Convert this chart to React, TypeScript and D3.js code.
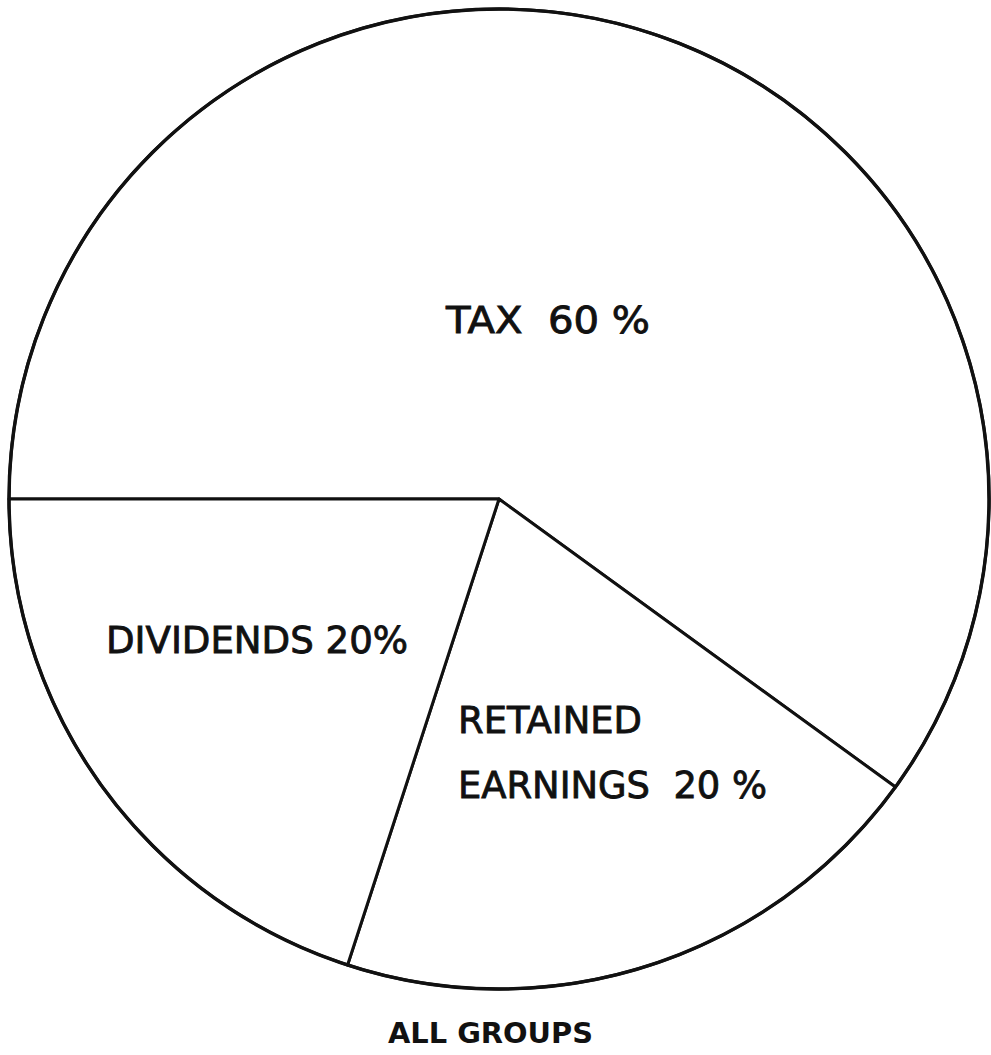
import React from 'react';
import * as d3 from 'd3';

// shares of income
const categories = ['TAX', 'RETAINED EARNINGS', 'DIVIDENDS'];
const shares = [60, 20, 20];
const labelLines = [['TAX  60 %'], ['RETAINED', 'EARNINGS  20 %'], ['DIVIDENDS 20%']];
const caption = 'ALL GROUPS';

// label layout (offsets from the pie centre and target widths of each line)
const labelLayout: { [k: string]: { dx: number; dy: number; widths: number[]; lineGap: number } } = {
  'TAX': { dx: -53, dy: -166, widths: [204], lineGap: 0 },
  'RETAINED EARNINGS': { dx: -41, dy: 234, widths: [184, 309], lineGap: 65 },
  'DIVIDENDS': { dx: -393, dy: 154, widths: [302], lineGap: 0 }
};

export default function App() {
  const width = 991;
  const height = 1055;
  const cx = 499;
  const cy = 499;
  const radius = 490;
  const font = '"DejaVu Sans", sans-serif';

  const data = categories.map((c, i) => ({ name: c, value: shares[i], lines: labelLines[i] }));

  const pie = d3
    .pie<{ name: string; value: number; lines: string[] }>()
    .sort(null)
    .value(d => d.value)
    .startAngle(-Math.PI / 2)
    .endAngle((3 * Math.PI) / 2);

  const arc = d3
    .arc<d3.PieArcDatum<{ name: string; value: number; lines: string[] }>>()
    .innerRadius(0)
    .outerRadius(radius);

  const arcs = pie(data);

  return (
    <svg
      width={width}
      height={height}
      style={{ position: 'absolute', left: 0, top: 0, display: 'block', background: '#fff' }}
    >
      <g transform={'translate(' + cx + ',' + cy + ')'}>
        {arcs.map((a, i) => (
          <path
            key={i}
            d={arc(a) || ''}
            fill="#fff"
            stroke="#111"
            strokeWidth={3}
            strokeLinejoin="round"
          />
        ))}
        <circle r={radius} fill="none" stroke="#111" strokeWidth={3.4} />

        {arcs.map((a, i) => {
          const lay = labelLayout[a.data.name];
          return (
            <g key={'l' + i}>
              {a.data.lines.map((line, j) => (
                <text
                  key={j}
                  x={lay.dx}
                  y={lay.dy + j * lay.lineGap}
                  fontFamily={font}
                  fontSize={38}
                  fill="#111"
                  stroke="#111"
                  strokeWidth={0.9}
                  textLength={lay.widths[j]}
                  lengthAdjust="spacingAndGlyphs"
                  style={{ whiteSpace: 'pre' }}
                >
                  {line}
                </text>
              ))}
            </g>
          );
        })}
      </g>

      <text
        x={388}
        y={1043}
        fontFamily={font}
        fontSize={28}
        fontWeight="bold"
        fill="#111"
        textLength={205}
        lengthAdjust="spacingAndGlyphs"
        style={{ whiteSpace: 'pre' }}
      >
        {caption}
      </text>
    </svg>
  );
}
